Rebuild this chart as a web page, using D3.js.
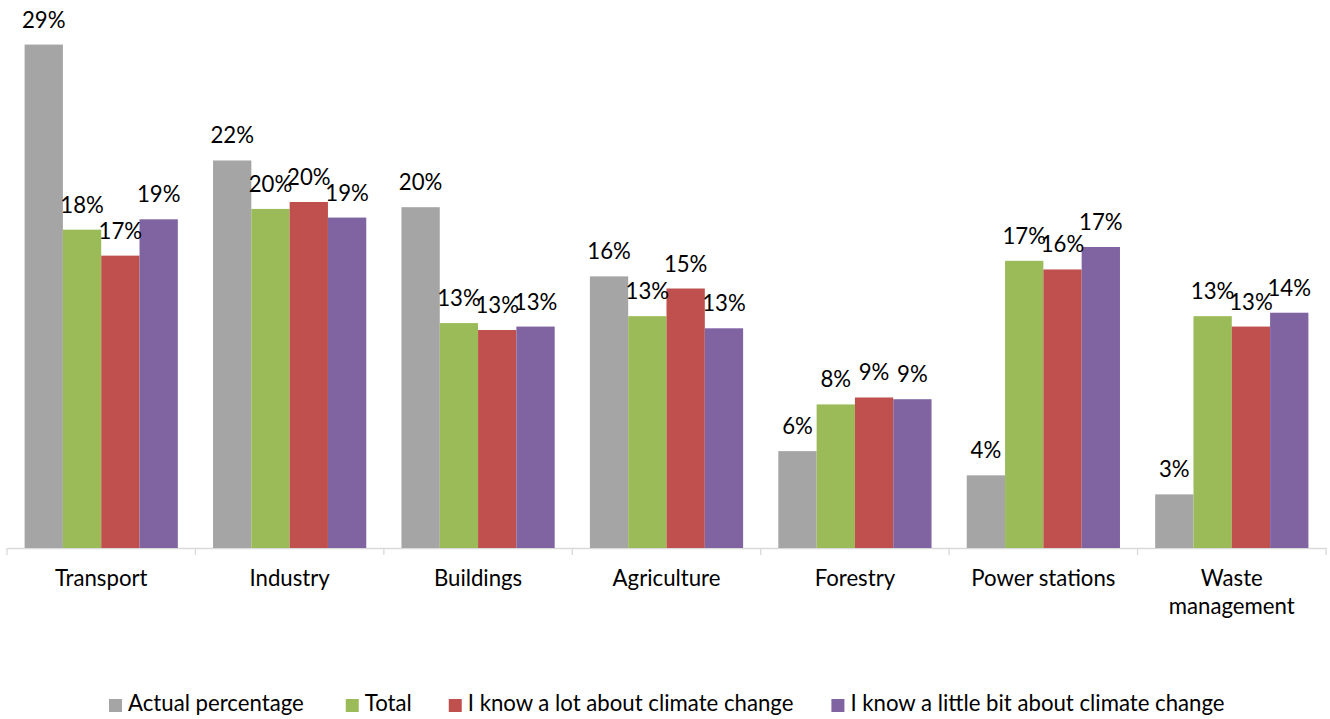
<!DOCTYPE html>
<html><head><meta charset="utf-8">
<script src="https://cdn.jsdelivr.net/npm/d3@7"></script>
<style>body{margin:0;background:#fff}svg{display:block}text{font-family:Lato,"Open Sans",sans-serif;fill:#000}</style>
</head><body><svg id="c" width="1330" height="719"></svg>
<script>
const categories = ["Transport","Industry","Buildings","Agriculture","Forestry","Power stations","Waste management"];
const seriesNames = ["Actual percentage","Total","I know a lot about climate change","I know a little bit about climate change"];
const actual = [29.1,22.4,19.7,15.7,5.6,4.2,3.1];
const total = [18.4,19.6,13.0,13.4,8.3,16.6,13.4];
const knowLot = [16.9,20.0,12.6,15.0,8.7,16.1,12.8];
const knowLittle = [19.0,19.1,12.8,12.7,8.6,17.4,13.6];
const colors = ["#a5a5a5","#9bbb59","#c0504d","#8064a2"];

const seriesVals = [actual,total,knowLot,knowLittle];
const svg = d3.select("#c");
const baseY = 548, fs = 22.2;
const x0 = d3.scaleBand().domain(categories).range([7,1326]).padding(0);
const gw = x0.bandwidth();
const x1 = d3.scaleBand().domain(seriesNames).range([17.6, gw-17.6]).padding(0);
const y = d3.scaleLinear().domain([0,30]).range([baseY, baseY-30*17.3]);

// axis
const ax = svg.append("g").attr("transform",`translate(0,${baseY})`)
  .call(d3.axisBottom(x0).tickSize(0).tickFormat(""));
ax.select(".domain").attr("stroke","#d9d9d9").attr("stroke-width",1.3);
const bounds = categories.map(c=>x0(c)).concat([1326]);
svg.append("g").selectAll("line").data(bounds).join("line")
  .attr("x1",d=>d).attr("x2",d=>d).attr("y1",baseY).attr("y2",baseY+7)
  .attr("stroke","#d9d9d9").attr("stroke-width",1.3);

const groups = svg.append("g").selectAll("g").data(categories).join("g")
  .attr("transform",c=>`translate(${x0(c)},0)`);
groups.each(function(c,ci){
  const g = d3.select(this);
  const data = seriesNames.map((s,si)=>({s,si,v:seriesVals[si][ci]}));
  g.selectAll("rect").data(data).join("rect")
    .attr("x",d=>x1(d.s)).attr("width",x1.bandwidth())
    .attr("y",d=>y(d.v)).attr("height",d=>baseY-y(d.v))
    .attr("fill",d=>colors[d.si]);
  g.selectAll("text.lbl").data(data).join("text").attr("class","lbl")
    .attr("x",d=>x1(d.s)+x1.bandwidth()/2).attr("y",d=>y(d.v)-17)
    .attr("text-anchor","middle").attr("font-size",fs)
    .text(d=>Math.round(d.v)+"%");
});

// category labels
const cl = svg.append("g").selectAll("text").data(categories).join("text")
  .attr("x",c=>x0(c)+gw/2).attr("y",586).attr("text-anchor","middle").attr("font-size",fs);
cl.each(function(c){
  const t = d3.select(this);
  if (c==="Waste management"){
    t.append("tspan").attr("x",x0(c)+gw/2).attr("dy",0).text("Waste");
    t.append("tspan").attr("x",x0(c)+gw/2).attr("dy",28).text("management");
  } else t.text(c);
});

// legend
const leg = svg.append("g");
const gaps = [42,37,38];
let lx = 109;
seriesNames.forEach((s,i)=>{
  leg.append("rect").attr("x",lx).attr("y",699).attr("width",13).attr("height",13).attr("fill",colors[i]);
  const t = leg.append("text").attr("x",lx+19).attr("y",711).attr("font-size",fs).text(s);
  lx += 19 + t.node().getComputedTextLength() + (gaps[i]||0);
});
</script></body></html>
